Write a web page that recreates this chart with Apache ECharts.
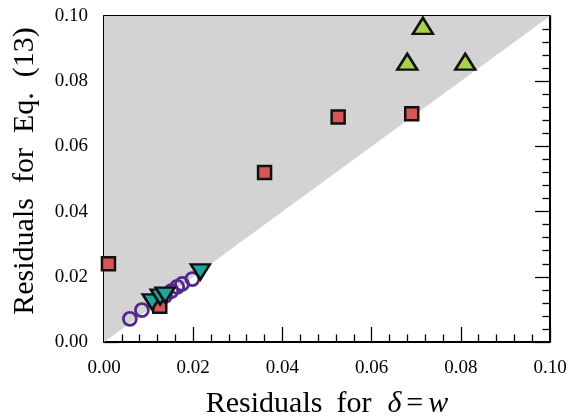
<!DOCTYPE html>
<html><head><meta charset="utf-8">
<script src="https://cdn.jsdelivr.net/npm/echarts@6/dist/echarts.min.js"></script>
<style>html,body{margin:0;padding:0;background:#fff}#c{width:569px;height:416px}</style>
</head><body><div id="c"></div>
<script>
const shade = [[0,0],[0.1,0.1]];
const squares = [[0.001,0.024],[0.036,0.052],[0.0525,0.069],[0.069,0.070],[0.0125,0.011]];
const upTri = [[0.0715,0.097],[0.068,0.086],[0.081,0.086]];
const downTri = [[0.0216,0.0215],[0.0108,0.0123],[0.0126,0.0138],[0.0137,0.0144]];
const circles = [[0.0058,0.0071],[0.0085,0.0098],[0.0137,0.0141],[0.0151,0.0156],[0.0164,0.0169],[0.0175,0.0178],[0.0198,0.0193]];
const ticks = ['0.00','0.02','0.04','0.06','0.08','0.10'];

const F = 'Liberation Serif';
const axisCommon = {
  type:'value', min:0, max:0.1, interval:0.02,
  axisLine:{show:true, onZero:false, lineStyle:{color:'#000', width:2}},
  axisTick:{show:true, inside:true, length:15, lineStyle:{color:'#000', width:1.3}},
  minorTick:{show:true, splitNumber:5, length:7.5, lineStyle:{color:'#000', width:1.3}},
  splitLine:{show:false}
};
const fmt = v => ticks[Math.round(v/0.02)];
const chart = echarts.init(document.getElementById('c'));
chart.setOption({
  animation:false,
  grid:{left:104, right:19, top:16, bottom:74, outerBoundsMode:'none', containLabel:false},
  xAxis:[
    Object.assign({}, axisCommon, {position:'bottom',
      axisLabel:{show:true, formatter:fmt, fontFamily:F, fontSize:19, color:'#000', margin:17},
      name:'{a|Residuals}{s1|}{a|for}{s2|}{i|δ}{s3|}{a|=}{s3|}{i|w}', nameLocation:'middle', nameGap:47,
      nameTextStyle:{rich:{
        a:{fontFamily:F,fontSize:30,color:'#000'},
        i:{fontFamily:F,fontSize:30,fontStyle:'italic',color:'#000'},
        s1:{width:14}, s2:{width:16}, s3:{width:5}
      }}}),
    Object.assign({}, axisCommon, {position:'top', axisLabel:{show:false}})
  ],
  yAxis:[
    Object.assign({}, axisCommon, {position:'left',
      axisLabel:{show:true, formatter:fmt, fontFamily:F, fontSize:19, color:'#000', margin:16},
      name:'Residuals  for  Eq.  (13)', nameLocation:'middle', nameGap:64,
      nameTextStyle:{fontFamily:F, fontSize:30, color:'#000', padding:[0,0,0,16]}}),
    Object.assign({}, axisCommon, {position:'right', axisLabel:{show:false}})
  ],
  series:[
    {type:'line', data:shade, symbol:'none', lineStyle:{width:0}, areaStyle:{color:'#d3d3d3', opacity:1, origin:'end'}, silent:true, z:1},
    {type:'scatter', data:circles, symbol:'circle', symbolSize:13,
      itemStyle:{color:'rgba(0,0,0,0)', borderColor:'#52288a', borderWidth:2.8, opacity:1}, z:3},
    {type:'scatter', data:squares, symbol:'rect', symbolSize:13,
      itemStyle:{color:'#d65757', borderColor:'#111', borderWidth:2.5, opacity:1}, z:4},
    {type:'scatter', data:downTri, symbol:'triangle', symbolRotate:180, symbolSize:[19,15],
      itemStyle:{color:'#1fa59b', borderColor:'#111', borderWidth:2.5, opacity:1}, z:5},
    {type:'scatter', data:upTri, symbol:'triangle', symbolSize:[20,16],
      itemStyle:{color:'#a5d24a', borderColor:'#111', borderWidth:2.5, opacity:1}, z:5}
  ]
});
</script></body></html>
